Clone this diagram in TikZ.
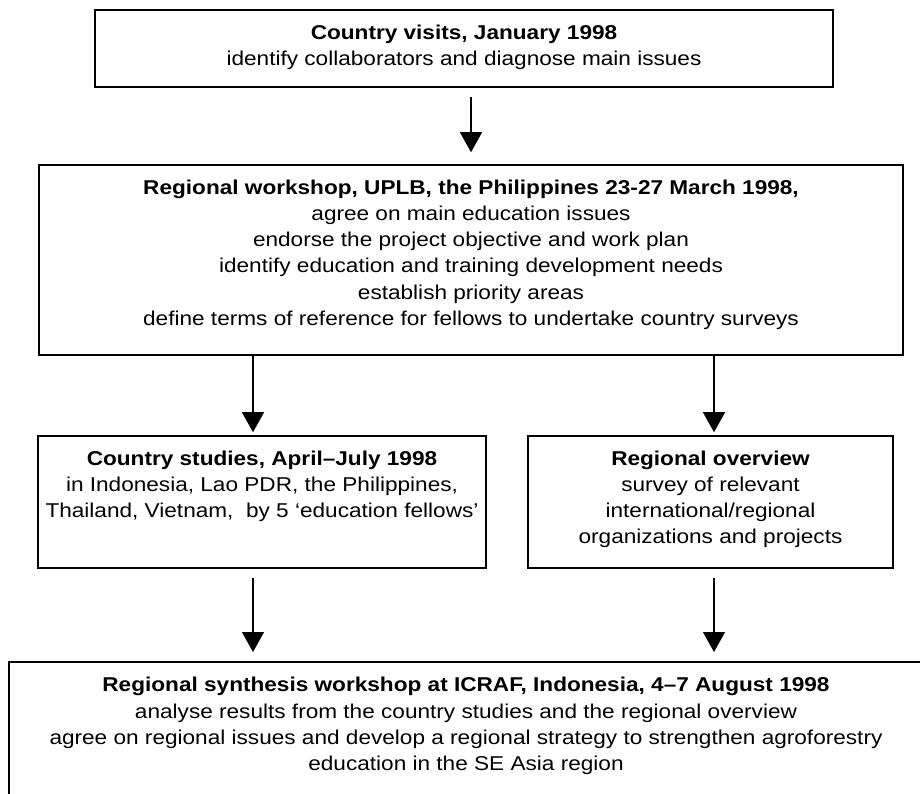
\documentclass[tikz,border=0pt]{standalone}
\usepackage{fontspec}
\setmainfont{Liberation Sans}[FakeStretch=1.13]
\usepackage{xcolor}
\usetikzlibrary{arrows.meta}

% nội dung hộp: rộng #1, cao #2, chữ căn từ trên xuống
\newcommand{\flowtext}[3]{\parbox[c][#2][t]{#1}{\centering\rule{0pt}{29pt}#3}}

\tikzset{
    flowbox/.style={draw, line width=1.6pt, inner sep=0pt,
        font=\fontsize{20}{26.3}\selectfont},
    flowarrow/.style={line width=1.2pt, -{Triangle[width=22pt,length=20pt]}}
}

\begin{document}
\begin{tikzpicture}[x=1pt,y=1pt]
    \useasboundingbox (0,0) rectangle (920,-793);
    \clip (0,0) rectangle (920,-793);

    % Hàng thứ nhất
    \node[flowbox] (visit) at (464,-48.5)
        {\flowtext{738pt}{77pt}{\textbf{Country visits, January 1998}\\
         identify collaborators and diagnose main issues}};

    % Hàng thứ hai
    \node[flowbox] (workshop) at (471,-260)
        {\flowtext{864pt}{190pt}{\textbf{Regional workshop, UPLB, the Philippines 23-27 March 1998,}\\
         agree on main education issues\\
         endorse the project objective and work plan\\
         identify education and training development needs\\
         establish priority areas\\
         define terms of reference for fellows to undertake country surveys}};

    % Hàng thứ ba
    \node[flowbox] (cstudy) at (262,-502)
        {\flowtext{448pt}{132pt}{\textbf{Country studies, April--July 1998}\\
         in Indonesia, Lao PDR, the Philippines,\\
         Thailand, Vietnam,\ \ by 5 `education fellows'}};
    \node[flowbox] (overview) at (710.5,-502)
        {\flowtext{365pt}{132pt}{\textbf{Regional overview}\\
         survey of relevant\\
         international/regional\\
         organizations and projects}};

    % Hàng cuối (bị cắt ở mép ảnh)
    \coordinate (synthtop) at (466,-662);
    \node[flowbox, draw=none, anchor=north] (synth) at (synthtop)
        {\flowtext{900pt}{140pt}{\rule{0pt}{4pt}\textbf{Regional synthesis workshop at ICRAF, Indonesia, 4--7 August 1998}\\
         analyse results from the country studies and the regional overview\\
         agree on regional issues and develop a regional strategy to strengthen agroforestry\\
         education in the SE Asia region}};
    \draw[line width=1.6pt] (9,-830) |- (960,-662);

    % Các mũi tên
    \draw[flowarrow, shorten <=9pt, shorten >=12pt] ([xshift=7pt]visit.south) -- ([xshift=7pt]visit.south |- workshop.north);
    \draw[flowarrow, shorten >=3pt] (workshop.south -| 253,0) -- (cstudy.north -| 253,0);
    \draw[flowarrow, shorten >=3pt] (workshop.south -| 714,0) -- (overview.north -| 714,0);
    \draw[flowarrow, shorten <=9pt, shorten >=10pt] (cstudy.south -| 253,0) -- (synthtop -| 253,0);
    \draw[flowarrow, shorten <=9pt, shorten >=10pt] (overview.south -| 714,0) -- (synthtop -| 714,0);

\end{tikzpicture}
\end{document}
